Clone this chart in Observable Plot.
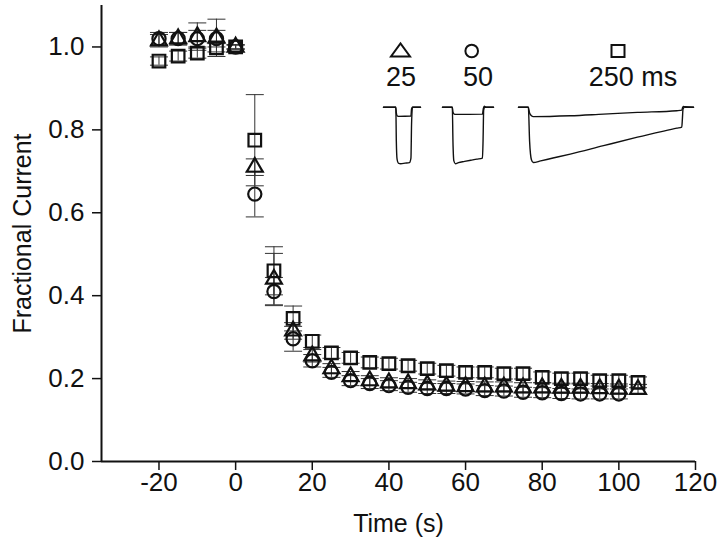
<!DOCTYPE html>
<html><head><meta charset="utf-8">
<script src="https://cdn.jsdelivr.net/npm/d3@7"></script>
<script src="https://cdn.jsdelivr.net/npm/@observablehq/plot@0.6"></script>
<style>
body{margin:0;background:#fff;}
#wrap{position:relative;width:720px;height:548px;font-family:"Liberation Sans",Arial,sans-serif;overflow:hidden;}
.inset{position:absolute;}
.lab{position:absolute;font-size:27px;color:#111;transform:translateX(-50%);white-space:nowrap;line-height:1;}
.sym{position:absolute;left:0;top:0;}
</style></head><body>
<div id="wrap"></div>
<script>
// ---- main data (time in s, fractional current) ----
const times   = [-20, -15, -10, -5, 0, 5, 10, 15, 20, 25, 30, 35, 40, 45, 50, 55, 60, 65, 70, 75, 80, 85, 90, 95, 100, 105];
const tri25   = [1.015, 1.02, 1.025, 1.022, 1.0, 0.71, 0.44, 0.315, 0.255, 0.224, 0.205, 0.195, 0.19, 0.188, 0.185, 0.182, 0.181, 0.18, 0.18, 0.178, 0.178, 0.177, 0.177, 0.176, 0.175, 0.174];
const tri25E  = [0.015, 0.015, 0.033, 0.045, 0.005, 0.02, 0.062, 0.02, 0.015, 0.012, 0.012, 0.012, 0.012, 0.012, 0.012, 0.012, 0.012, 0.012, 0.012, 0.012, 0.012, 0.012, 0.012, 0.012, 0.012, 0.012];
const circ50  = [1.02, 1.02, 1.02, 1.02, 1.0, 0.645, 0.41, 0.296, 0.243, 0.215, 0.195, 0.188, 0.183, 0.179, 0.176, 0.176, 0.175, 0.171, 0.17, 0.167, 0.166, 0.164, 0.163, 0.163, 0.163, null];
const circ50E = [0.015, 0.015, 0.02, 0.02, 0.005, 0.055, 0.034, 0.03, 0.015, 0.012, 0.012, 0.012, 0.012, 0.012, 0.012, 0.012, 0.012, 0.012, 0.012, 0.012, 0.012, 0.012, 0.012, 0.012, 0.012, null];
const sq250   = [0.966, 0.978, 0.985, 0.998, 1.0, 0.775, 0.46, 0.345, 0.29, 0.262, 0.25, 0.239, 0.236, 0.231, 0.224, 0.219, 0.215, 0.215, 0.212, 0.212, 0.203, 0.2, 0.2, 0.195, 0.195, 0.191];
const sq250E  = [0.01, 0.012, 0.012, 0.01, 0.005, 0.11, 0.058, 0.03, 0.015, 0.013, 0.013, 0.013, 0.013, 0.013, 0.013, 0.013, 0.013, 0.013, 0.013, 0.013, 0.013, 0.013, 0.013, 0.013, 0.013, 0.013];
const xTicks = [-20, 0, 20, 40, 60, 80, 100, 120];
const yTicks = [0, 0.2, 0.4, 0.6, 0.8, 1.0];

// ---- inset current traces (time in ms from pulse onset, normalized current) ----
const tr25Tc  = [-20, 0, 0.8, 2, 4, 8, 15, 22, 24.5, 25.5, 27, 40];
const tr25Vc  = [0, 0, -0.6, -0.92, -0.99, -1.0, -0.99, -0.98, -0.9, -0.3, 0, 0];
const tr25Td  = [-20, 0, 0.8, 2, 4, 24.5, 25.5, 27, 40];
const tr25Vd  = [0, 0, -0.1, -0.15, -0.16, -0.155, -0.03, 0, 0];
const tr50Tc  = [-16, 0, 1, 2.5, 5, 10, 20, 30, 40, 49, 50, 51, 53, 67];
const tr50Vc  = [0, 0, -0.6, -0.95, -1.0, -0.98, -0.96, -0.94, -0.92, -0.9, -0.6, -0.05, 0, 0];
const tr50Td  = [-16, 0, 1, 3, 6, 49, 50.5, 52, 55, 67];
const tr50Vd  = [0, 0, -0.08, -0.12, -0.125, -0.12, -0.02, 0.02, 0, 0];
const tr250Tc = [-16, 0, 2, 5, 8, 20, 40, 68, 122, 177, 241, 249, 250, 251, 254, 268];
const tr250Vc = [0, 0, -0.6, -0.93, -0.98, -0.95, -0.9, -0.83, -0.68, -0.53, -0.37, -0.35, -0.2, -0.03, 0.01, 0];
const tr250Td = [-16, 0, 2, 5, 8, 68, 122, 177, 241, 249, 250.5, 252, 255, 268];
const tr250Vd = [0, 0, -0.1, -0.15, -0.165, -0.15, -0.12, -0.09, -0.06, -0.05, 0, 0.015, 0, 0];

const mk = (vals, errs) => times.map((t, i) => ({t, v: vals[i], e: errs[i]})).filter(d => d.v != null);
const triRows = mk(tri25, tri25E), circRows = mk(circ50, circ50E), sqRows = mk(sq250, sq250E);
const allRows = [...sqRows, ...circRows, ...triRows];
const caps = allRows.flatMap(d => [{t: d.t, y: d.v - d.e}, {t: d.t, y: d.v + d.e}]);
const capSymbol = {draw(ctx) { ctx.moveTo(-9, 0); ctx.lineTo(9, 0); }};

const font = "Liberation Sans, Arial, sans-serif";
const main = Plot.plot({
  width: 720, height: 548,
  marginLeft: 101, marginRight: 25, marginTop: 5, marginBottom: 87,
  style: {fontFamily: font, background: "white", color: "#111"},
  x: {domain: [-35, 120]},
  y: {domain: [0, 1.1]},
  marks: [
    Plot.axisX({ticks: xTicks, tickFormat: d => String(d), tickSize: 9, tickPadding: 2, fontSize: 26, strokeWidth: 1.5, label: null}),
    Plot.axisY({ticks: yTicks, tickFormat: d => d.toFixed(1), tickSize: 9, tickPadding: 8, fontSize: 26, strokeWidth: 1.5, label: null}),
    Plot.ruleY([0], {stroke: "#111", strokeWidth: 2}),
    Plot.ruleX([-35], {stroke: "#111", strokeWidth: 2}),
    Plot.ruleX(allRows, {x: "t", y1: d => d.v - d.e, y2: d => d.v + d.e, stroke: "#333", strokeWidth: 1}),
    Plot.dot(caps, {x: "t", y: "y", symbol: capSymbol, stroke: "#333", strokeWidth: 1, fill: "none"}),
    Plot.dot(sqRows, {x: "t", y: "v", symbol: "square", r: 7.1, stroke: "#111", strokeWidth: 2.2, fill: "none"}),
    Plot.dot(circRows, {x: "t", y: "v", symbol: "circle", r: 6.6, stroke: "#111", strokeWidth: 2.2, fill: "none"}),
    Plot.dot(triRows, {x: "t", y: "v", symbol: "triangle", r: 5.9, stroke: "#111", strokeWidth: 2.2, fill: "none"}),
    Plot.text(["Time (s)"], {frameAnchor: "bottom", dy: 62, lineAnchor: "middle", textAnchor: "middle", fontSize: 25, fill: "#111"}),
    Plot.text(["Fractional Current"], {frameAnchor: "left", dx: -79, rotate: -90, lineAnchor: "middle", textAnchor: "middle", fontSize: 25, fill: "#111"})
  ]
});
const wrap = document.getElementById("wrap");
wrap.appendChild(main);

// inset traces
const pxPerMs = 0.616;
function trace(tc, vc, td, vd, left) {
  const t0 = tc[0], t1 = tc[tc.length - 1];
  const ctrl = tc.map((t, i) => ({t, v: vc[i]}));
  const drug = td.map((t, i) => ({t, v: vd[i]}));
  const p = Plot.plot({
    width: Math.round((t1 - t0) * pxPerMs), height: 62, margin: 0,
    style: {background: "transparent", overflow: "visible"},
    x: {domain: [t0, t1], axis: null},
    y: {domain: [-1.05, 0.05], axis: null},
    marks: [
      Plot.line(ctrl, {x: "t", y: "v", stroke: "#111", strokeWidth: 1.4, curve: "monotone-x"}),
      Plot.line(drug, {x: "t", y: "v", stroke: "#111", strokeWidth: 1.4, curve: "monotone-x"})
    ]
  });
  const div = document.createElement("div");
  div.className = "inset";
  div.style.left = left + "px"; div.style.top = "104px";
  div.appendChild(p);
  wrap.appendChild(div);
}
trace(tr25Tc, tr25Vc, tr25Td, tr25Vd, 383);
trace(tr50Tc, tr50Vc, tr50Td, tr50Vd, 442);
trace(tr250Tc, tr250Vc, tr250Td, tr250Vd, 518);

// inset legend
const legendLabels = [{text: "25", x: 401}, {text: "50", x: 478}, {text: "250 ms", x: 633}];
legendLabels.forEach(l => {
  const s = document.createElement("div");
  s.className = "lab"; s.textContent = l.text;
  s.style.left = l.x + "px"; s.style.top = "64px";
  wrap.appendChild(s);
});
const ns = "http://www.w3.org/2000/svg";
const svg = document.createElementNS(ns, "svg");
svg.setAttribute("width", 720); svg.setAttribute("height", 100); svg.setAttribute("class", "sym");
svg.style.position = "absolute";
svg.innerHTML = '<g fill="none" stroke="#111" stroke-width="2">' +
  '<polygon points="391,56.5 410,56.5 400.5,43.5"/>' +
  '<circle cx="471.7" cy="51" r="6.3"/>' +
  '<rect x="611.5" y="45" width="13" height="12"/></g>';
wrap.appendChild(svg);
</script>
</body></html>
